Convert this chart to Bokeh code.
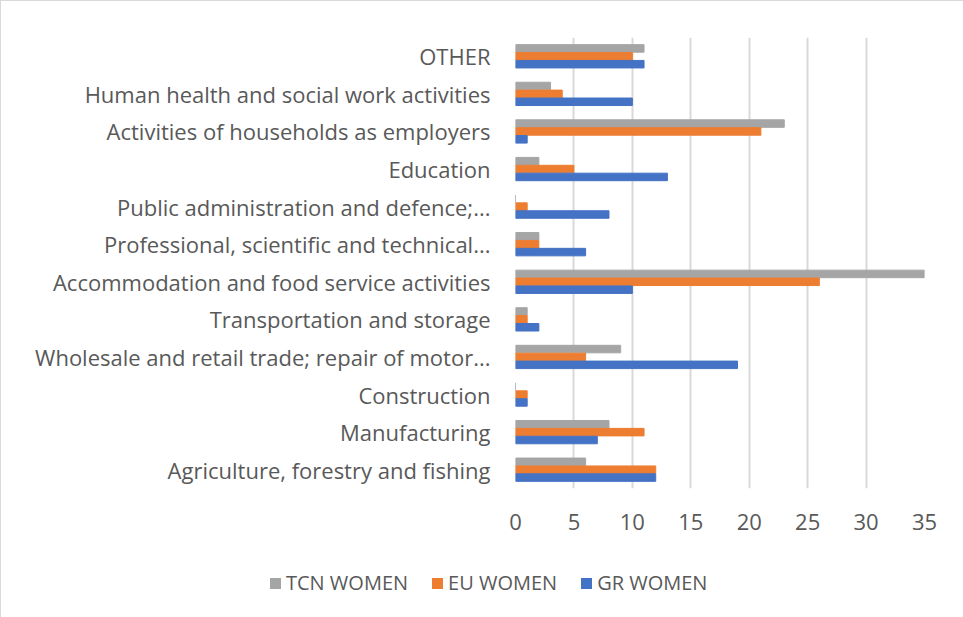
from bokeh.plotting import figure
from bokeh.layouts import column
from bokeh.models import ColumnDataSource, FactorRange, FixedTicker, Div
from bokeh.transform import dodge
from bokeh.embed import file_html
from bokeh.resources import INLINE

categories = [
    "Agriculture, forestry and fishing",
    "Manufacturing",
    "Construction",
    "Wholesale and retail trade; repair of motor...",
    "Transportation and storage",
    "Accommodation and food service activities",
    "Professional, scientific and technical...",
    "Public administration and defence;...",
    "Education",
    "Activities of households as employers",
    "Human health and social work activities",
    "OTHER",
]
tcn_women = [6, 8, 0, 9, 1, 35, 2, 0, 2, 23, 3, 11]
eu_women = [12, 11, 1, 6, 1, 26, 2, 1, 5, 21, 4, 10]
gr_women = [12, 7, 1, 19, 2, 10, 6, 8, 13, 1, 10, 11]
x_ticks = [0, 5, 10, 15, 20, 25, 30, 35]
series_names = ["TCN WOMEN", "EU WOMEN", "GR WOMEN"]
colors = ["#a5a5a5", "#ed7d31", "#4472c4"]

source = ColumnDataSource(data=dict(cat=categories, tcn=tcn_women, eu=eu_women, gr=gr_women))

FONT = "Open Sans"
TXT = "#595959"

p = figure(
    y_range=FactorRange(*categories, range_padding=0),
    x_range=(0, 35),
    width=955, height=548,
    min_border_left=514, min_border_top=36, min_border_right=32, min_border_bottom=61,
    output_backend="svg", toolbar_location=None,
)

bh = 0.2
p.hbar(y=dodge("cat", 0.21, range=p.y_range), right="tcn", left=0, height=bh, source=source, color=colors[0])
p.hbar(y=dodge("cat", 0.0, range=p.y_range), right="eu", left=0, height=bh, source=source, color=colors[1])
p.hbar(y=dodge("cat", -0.21, range=p.y_range), right="gr", left=0, height=bh, source=source, color=colors[2])

p.xaxis.ticker = FixedTicker(ticks=x_ticks)
p.xgrid.ticker = FixedTicker(ticks=x_ticks)
p.xgrid.grid_line_color = "#d9d9d9"
p.xgrid.grid_line_width = 2
p.ygrid.grid_line_color = None
p.outline_line_color = None

for ax in (p.xaxis[0], p.yaxis[0]):
    ax.axis_line_color = None
    ax.major_tick_line_color = None
    ax.minor_tick_line_color = None
    ax.major_label_text_font = FONT
    ax.major_label_text_font_size = "22px"
    ax.major_label_text_color = TXT
p.xaxis.major_label_standoff = 19
p.yaxis.major_label_standoff = 19

# Legend row (HTML text, built from the series names and colours)
items_html = "".join(
    f'<span style="display:inline-block;width:11px;height:11px;background:{c};margin-right:5px;"></span>'
    f'<span style="margin-right:24px;">{n}</span>'
    for n, c in zip(series_names, colors)
)
legend_div = Div(
    text=f'<div style="display:flex;align-items:center;padding-left:264px;padding-top:15px;'
         f'font-family:\'Open Sans\';font-size:20px;color:{TXT};line-height:28px;white-space:nowrap;">'
         f'{items_html}</div>',
    width=955, height=63,
)

layout = column(p, legend_div, spacing=0, styles={"border": "1px solid #d9d9d9"})

open("out.html", "w").write(file_html(layout, INLINE))
